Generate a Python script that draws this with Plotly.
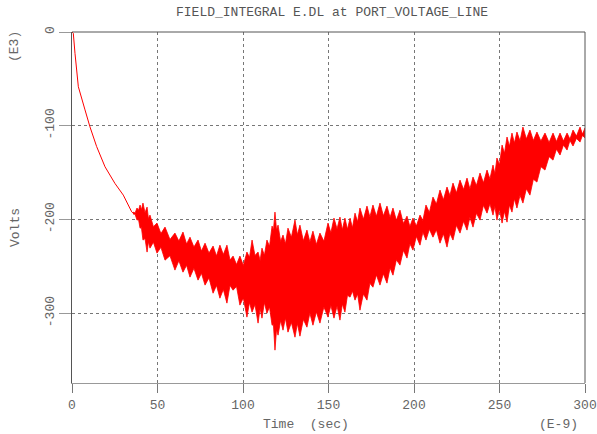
import plotly.graph_objects as go

# --- initial smooth decay (Time in ns, Volts in kV) ---
t_line = [0, 0.76, 1.75, 3.7, 7.6, 10.5, 14.4, 19.3, 25.1, 30.0, 34.9, 35.7]
v_line = [0, -1.4, -22.7, -58.3, -83.0, -101.0, -122.0, -143.6, -161.3, -173.8, -191.6, -193.0]

# --- noisy region: outer spike tips (upper / lower) ---
t_env = [35.7, 38.0, 39.8, 41.5, 43.9, 45.6, 49.7, 54.4, 60.2, 64.9, 69.0, 73.7, 77.8,
         82.5, 86.5, 90.6, 94.2, 98.2, 102.3, 105.3, 108.8, 111.1, 114.0, 117.0, 118.7,
         120.5, 123.4, 126.3, 130.4, 133.3, 137.4, 140.9, 145.0, 149.7, 153.2, 156.7,
         159.6, 162.6, 165.5, 168.4, 172.5, 176.0, 180.1, 184.2, 187.7, 191.8, 195.9,
         199.4, 203.5, 207.0, 211.1, 215.2, 219.3, 222.8, 226.9, 231.0, 234.5, 238.6,
         242.7, 246.2, 248.5, 251.5, 254.4, 257.3, 260.2, 263.7, 267.8, 271.9, 276.6,
         281.3, 285.4, 289.5, 293.0, 297.1, 300.0]
v_top = [-191.9, -187.6, -184.4, -182.3, -186.6, -195.1, -203.6, -207.9, -214.3, -213.2,
         -218.6, -221.7, -225.0, -228.1, -227.1, -227.1, -238.8, -238.8, -234.5, -221.7,
         -234.5, -230.3, -221.7, -206.8, -191.9, -205.8, -216.4, -209.0, -200.4, -205.8,
         -211.1, -212.2, -214.3, -203.6, -198.3, -197.2, -198.3, -198.3, -193.0, -187.6,
         -185.5, -184.4, -182.3, -185.5, -187.6, -189.8, -196.2, -198.3, -195.1, -184.4,
         -175.9, -168.4, -165.2, -161.0, -157.8, -155.7, -154.6, -150.3, -147.1, -141.8,
         -134.3, -120.5, -111.9, -107.7, -106.6, -101.3, -104.5, -106.6, -107.7, -107.7,
         -107.7, -107.7, -104.5, -101.3, -102.3]
v_bot = [-194.0, -200.4, -209.0, -221.7, -234.5, -230.3, -235.6, -243.1, -253.7, -255.9,
         -261.2, -264.4, -269.7, -278.3, -283.6, -288.9, -275.1, -291.0, -303.8, -298.5,
         -310.2, -304.9, -299.6, -312.4, -339.0, -323.0, -317.7, -319.8, -325.2, -324.1,
         -314.5, -312.4, -310.2, -303.8, -304.9, -307.0, -298.5, -282.5, -285.7, -296.4,
         -285.7, -271.9, -269.7, -267.6, -259.1, -248.4, -240.9, -232.4, -227.1, -221.7,
         -218.6, -225.0, -229.2, -221.7, -214.3, -211.1, -207.9, -200.4, -193.0, -195.1,
         -200.4, -203.6, -202.6, -191.9, -187.6, -182.3, -173.8, -159.9, -147.1, -136.5,
         -131.1, -125.8, -121.5, -117.3, -113.0]

# --- notches between spikes (valleys of the jagged edges) ---
t_mid = [36.9, 38.9, 40.6, 42.7, 44.7, 47.6, 52.0, 57.3, 62.5, 67.0, 71.3, 75.7, 80.1,
         84.5, 88.5, 92.4, 96.2, 100.2, 103.8, 107.0, 110.0, 112.5, 115.5, 117.8, 119.6,
         122.0, 124.8, 128.3, 131.8, 135.3, 139.1, 142.9, 147.3, 151.4, 155.0, 158.1,
         161.1, 164.0, 167.0, 170.4, 174.2, 178.0, 182.1, 186.0, 189.7, 193.8, 197.6,
         201.4, 205.2, 209.0, 213.1, 217.2, 221.0, 224.8, 229.0, 232.7, 236.5, 240.6,
         244.4, 247.3, 250.0, 252.9, 255.8, 258.7, 262.0, 265.7, 269.8, 274.2, 279.0,
         283.3, 287.4, 291.2, 295.0, 298.5]
v_top_mid = [-192.8, -190.0, -189.4, -192.5, -198.9, -207.4, -214.8, -221.1, -222.8, -225.9,
             -229.2, -233.4, -235.6, -238.6, -237.1, -243.0, -247.8, -248.7, -240.1, -238.1,
             -243.4, -238.0, -228.3, -211.4, -210.9, -223.1, -225.7, -218.7, -216.1, -222.5,
             -223.7, -226.3, -223.0, -214.0, -209.8, -210.8, -210.3, -208.7, -202.3, -199.6,
             -197.0, -196.4, -195.9, -197.6, -200.7, -204.0, -207.3, -206.7, -200.8, -192.2,
             -183.2, -178.8, -174.1, -171.4, -167.8, -167.2, -163.5, -160.7, -156.5, -151.1,
             -141.4, -129.2, -121.8, -118.2, -116.0, -113.9, -115.6, -116.2, -117.7, -116.7,
             -116.2, -114.1, -110.9, -108.8]
v_bot_mid = [-194.2, -199.7, -208.4, -220.1, -223.4, -224.0, -229.4, -238.4, -243.8, -248.6,
             -251.8, -257.1, -262.0, -270.0, -274.3, -270.0, -271.1, -283.4, -288.2, -290.4,
             -294.6, -288.3, -293.0, -311.7, -317.0, -307.4, -304.8, -309.5, -310.7, -306.3,
             -299.5, -298.3, -293.0, -291.4, -292.0, -289.8, -280.5, -276.1, -279.1, -279.1,
             -267.8, -258.8, -257.7, -251.4, -242.8, -232.7, -225.7, -217.8, -213.4, -210.2,
             -210.8, -215.1, -214.5, -206.0, -201.7, -197.5, -193.2, -184.7, -183.1, -185.8,
             -189.0, -191.1, -184.3, -177.8, -174.0, -167.1, -156.9, -143.5, -132.8, -124.8,
             -120.5, -115.7, -113.4, -110.2]

x_ticks = [0, 50, 100, 150, 200, 250, 300]
y_ticks = [0, -100, -200, -300]

RED = "#ff0000"
GRAY = "#666666"
FONT = "Liberation Mono, Courier New, monospace"


def interleave(a, b):
    out = []
    for i in range(len(a)):
        out.append(a[i])
        if i < len(b):
            out.append(b[i])
    return out


tx = interleave(t_env, t_mid)
upper = interleave(v_top, v_top_mid)
lower = interleave(v_bot, v_bot_mid)

fig = go.Figure()
fig.add_trace(go.Scatter(
    x=tx + tx[::-1], y=upper + lower[::-1],
    mode="lines", fill="toself", fillcolor=RED,
    line=dict(color=RED, width=0.8), hoverinfo="skip", showlegend=False))
fig.add_trace(go.Scatter(
    x=t_line, y=v_line, mode="lines",
    line=dict(color=RED, width=1), showlegend=False))

W, H = 597, 434
L, R, T, B = 72, 12, 32, 51
pw, ph = W - L - R, H - T - B


def px(x):
    return (x - L) / pw


def py(y):
    return (H - B - y) / ph


fig.update_layout(
    width=W, height=H,
    margin=dict(l=L, r=R, t=T, b=B, autoexpand=False),
    paper_bgcolor="white", plot_bgcolor="white",
    font=dict(family=FONT, size=13, color=GRAY),
    xaxis=dict(range=[0, 300], tickvals=x_ticks, ticktext=[str(v) for v in x_ticks],
               showgrid=True, gridcolor="#777777", griddash="dot", gridwidth=1,
               zeroline=False, showline=True, linecolor="#999999", linewidth=1,
               ticks="outside", ticklen=9, tickcolor="#777777", automargin=False,
               tickfont=dict(family=FONT, size=13, color=GRAY)),
    yaxis=dict(range=[-374, 0], tickvals=y_ticks, ticktext=[str(v) for v in y_ticks],
               showgrid=True, gridcolor="#777777", griddash="dot", gridwidth=1,
               zeroline=False, showline=True, linecolor="#555555", linewidth=1,
               ticks="outside", ticklen=12, tickcolor="#999999", tickangle=-90,
               automargin=False,
               tickfont=dict(family=FONT, size=13, color=GRAY)),
    shapes=[
        dict(type="line", xref="paper", yref="paper", x0=0, x1=1, y0=1, y1=1,
             line=dict(color="#555555", width=1)),
        dict(type="line", xref="paper", yref="paper", x0=1, x1=1, y0=0, y1=1,
             line=dict(color="#555555", width=1)),
    ],
    annotations=[
        dict(text="FIELD_INTEGRAL E.DL at PORT_VOLTAGE_LINE", xref="paper", yref="paper",
             x=px(332), y=py(13), xanchor="center", yanchor="middle", showarrow=False,
             font=dict(family=FONT, size=13, color="#555555")),
        dict(text="(E3)", xref="paper", yref="paper", x=px(15), y=py(47),
             xanchor="center", yanchor="middle", textangle=-90, showarrow=False,
             font=dict(family=FONT, size=13, color=GRAY)),
        dict(text="Volts", xref="paper", yref="paper", x=px(15), y=py(228),
             xanchor="center", yanchor="middle", textangle=-90, showarrow=False,
             font=dict(family=FONT, size=13, color=GRAY)),
        dict(text="Time  (sec)", xref="paper", yref="paper", x=px(261), y=py(424),
             xanchor="left", yanchor="middle", showarrow=False,
             font=dict(family=FONT, size=13, color=GRAY)),
        dict(text="(E-9)", xref="paper", yref="paper", x=px(580), y=py(424),
             xanchor="right", yanchor="middle", showarrow=False,
             font=dict(family=FONT, size=13, color=GRAY)),
    ],
)

fig.write_html("out.html")
